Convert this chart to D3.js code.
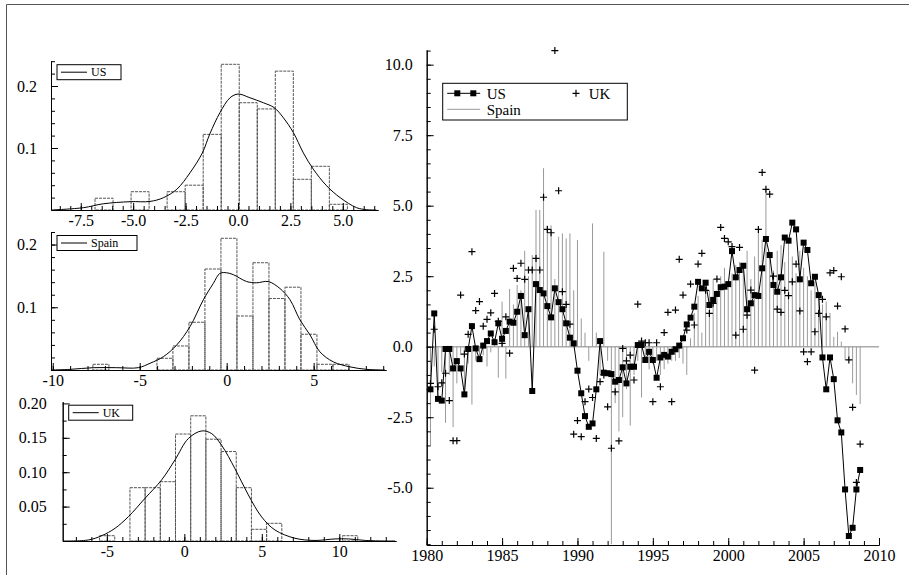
<!DOCTYPE html>
<meta charset="utf-8">
<style>
body { margin: 0; background: #fff; }
svg { display: block; }
</style>
<svg width="909" height="575" font-family="'Liberation Serif', serif"></svg>
<script src="https://d3js.org/d3.v7.min.js"></script>
<script>

// quarterly growth rates, 1980Q2 - 2008Q4
var firstYear = 1980, firstQuarter = 2;

var usGrowth = [-1.51, 1.18, -1.85, -1.91, -0.08, -0.08, -0.77, -0.51, -0.77, -1.69,
  -0.08, 0.73, -0.06, -0.44, 0.04, 0.20, 0.47, 0.16, 0.83, 0.28,
  0.56, 0.89, 0.85, 1.24, 1.80, 0.41, 1.33, -1.57, 2.22, 2.01,
  1.89, 1.44, 1.04, 2.07, 1.58, 1.33, 0.83, 0.32, 0.12, -0.85,
  -1.65, -2.46, -2.84, -2.72, -1.51, 0.20, -0.92, -0.94, -0.97, -1.24,
  -1.18, -0.73, -1.30, -0.71, -0.71, 0.06, 0.06, -0.47, -0.18, -0.47,
  -1.10, -0.38, -0.29, -0.35, -0.18, -0.09, 0.04, 0.30, 0.79, 1.03,
  1.42, 2.30, 2.07, 2.27, 1.48, 1.66, 1.87, 2.11, 2.13, 2.22,
  3.39, 2.46, 2.72, 2.87, 1.33, 1.54, 1.83, 1.80, 2.78, 3.82,
  3.25, 2.19, 1.95, 2.46, 3.87, 3.76, 4.40, 4.16, 2.39, 3.69,
  3.43, 2.25, 2.48, 1.83, -0.38, -1.51, -0.38, -1.15, -2.61, -3.04,
  -5.06, -6.71, -6.42, -5.06, -4.37];

var ukGrowth = [-1.3, 0.62, -1.42, -1.28, -0.94, -1.91, -3.33, -3.33, 1.83, -0.26,
  0.44, 3.37, 1.28, 1.60, 0.73, 0.97, 1.2, 1.89, 0.9, 0.12,
  1.06, -0.23, 2.78, 2.42, 2.96, 2.39, 2.72, 2.72, 3.13, 2.72,
  5.3, 4.16, 4.04, 10.5, 5.53, 1.95, 1.5, 0.8, -3.1, -2.62,
  -3.19, -1.95, -1.5, -1.8, -3.25, -1.24, -1.0, -2.13, -3.6, -1.6,
  -3.34, -0.06, -0.5, -0.3, -1.18, 1.51, 0.2, 0.14, 0.14, -1.95,
  0.14, -1.42, 0.5, 1.22, -1.95, 1.30, 3.1, 1.83, 0.59, 2.22,
  0.77, 2.93, 3.31, 2.0, 1.18, 1.54, 2.40, 4.23, 3.84, 3.72,
  3.55, 0.41, 3.52, 0.62, 1.12, 2.01, -0.83, 4.16, 6.18, 5.58,
  5.41, 2.5, 1.33, 1.22, 2.0, 1.81, 2.3, 2.93, 1.27, -0.18,
  -0.53, -0.18, 0.53, 1.18, 1.68, 1.06, 2.62, 2.70, 1.44, 2.48,
  0.63, -0.47, -2.15, -4.81, -3.45];

var spainGrowth = [-3.5, -0.7, -1.9, -0.9, -2.7, -1.0, -2.85, -1.3, -0.3, -1.77,
  -0.6, -2.05, -0.5, -0.4, -0.3, -0.7, -0.2, 0.3, -1.1, 1.6,
  -1.13, 2.05, 1.5, 2.19, 2.0, 3.4, 2.5, 3.25, 4.85, 4.85,
  6.33, 4.3, 4.3, 2.4, 3.9, 4.02, 3.84, 4.02, 2.0, 3.78,
  1.0, 0.5, -0.5, 4.37, 0.5, -1.0, 3.37, -0.5, -7.0, -2.0,
  -3.0, -2.5, -1.5, -2.8, -1.0, -0.5, -1.8, -0.5, -0.8, -0.6,
  -0.5, -1.0, -0.8, -0.6, -0.5, -0.5, -0.4, -0.6, -1.0, 0.3,
  1.2, 1.8, 0.5, 2.3, 2.0, 2.4, 2.0, 2.5, 2.8, 2.2,
  2.6, 2.9, 3.0, 2.7, 3.4, 2.4, 3.2, 4.1, 3.8, 5.6,
  3.2, 2.7, 3.4, 3.6, 3.0, 3.8, 3.2, 2.6, 3.4, 2.8,
  2.5, 2.0, 2.3, 1.7, 1.5, 1.6, 1.2, 0.35, 0.53, 0.18,
  -0.47, -0.47, -1.3, -1.71, -2.03];

// histograms: bin start, bin width, density per bin
var usBinStart = -6.82, usBinWidth = 0.86;
var usHist = [0.019, 0, 0.0295, 0, 0.0295, 0.040, 0.122, 0.235, 0.173, 0.163, 0.224, 0.0495, 0.0705, 0.0092];
var usDensity = [[-8.9, 0], [-7.38, 0.0037], [-6.43, 0.010], [-5.15, 0.0134], [-4.20, 0.0138], [-3.56, 0.0198],
  [-2.92, 0.0334], [-2.29, 0.060], [-1.70, 0.092], [-1.34, 0.123], [-0.86, 0.157], [-0.38, 0.181],
  [0.01, 0.187], [0.57, 0.181], [1.21, 0.173], [1.73, 0.165], [2.16, 0.149], [2.64, 0.125],
  [3.12, 0.092], [3.59, 0.066], [4.23, 0.039], [4.87, 0.020], [5.66, 0.0037], [6.14, 0.0005], [6.6, 0]];

var spainBinStart = -7.69, spainBinWidth = 0.92;
var spainHist = [0.0091, 0, 0, 0, 0.0187, 0.0383, 0.0761, 0.161, 0.210, 0.0861, 0.171, 0.114, 0.132, 0.057, 0.0091, 0.0091];
var spainDensity = [[-10.1, 0], [-9.01, 0.001], [-7.67, 0.0037], [-6.32, 0.0037], [-5.08, 0.0037], [-4.41, 0.0107],
  [-3.64, 0.0212], [-2.87, 0.040], [-2.11, 0.069], [-1.34, 0.112], [-0.77, 0.138], [-0.39, 0.154],
  [0, 0.155], [0.38, 0.152], [1.15, 0.141], [1.72, 0.139], [2.39, 0.141], [3.06, 0.130],
  [3.64, 0.112], [4.21, 0.080], [4.79, 0.056], [5.36, 0.029], [6.13, 0.013], [7.09, 0.005], [8.05, 0.001], [9.1, 0]];

var ukBinStart = -5.47, ukBinWidth = 0.98;
var ukHist = [0.0077, 0, 0.0775, 0.0775, 0.0862, 0.1555, 0.182, 0.148, 0.130, 0.0775, 0.017, 0.0257, 0, 0, 0, 0, 0.0077];
var ukDensity = [[-7.8, 0], [-6.19, 0.0015], [-5.33, 0.0077], [-4.47, 0.0185], [-3.61, 0.0354], [-2.54, 0.062],
  [-1.46, 0.089], [-0.60, 0.118], [0.26, 0.149], [1.12, 0.160], [1.77, 0.156], [2.41, 0.139],
  [3.27, 0.105], [4.13, 0.067], [4.99, 0.035], [5.85, 0.016], [7.14, 0.004], [8.43, 0.0008],
  [9.72, 0.003], [10.6, 0.003], [11.68, 0.0008], [12.95, 0], [13.6, 0]];

var svg = d3.select("svg");
var serif = "'Liberation Serif', serif";

// outer frame (top and left edges are visible)
svg.append("path").attr("d", "M6.5,575V4.5H909").attr("fill", "none").attr("stroke", "#555");

function fix(n) { return function(d) { return d.toFixed(n); }; }

function axes(g, x, y, o) {
  var h = y.range()[0], left = x.range()[0];
  g.append("g").attr("transform", "translate(0," + h + ")")
    .call(d3.axisBottom(x).tickValues(o.xMinor).tickSize(-4).tickSizeOuter(0).tickFormat(""));
  g.append("g").attr("transform", "translate(0," + h + ")")
    .call(d3.axisBottom(x).tickValues(o.xMajor).tickSize(-7).tickSizeOuter(0).tickPadding(5).tickFormat(o.xFmt))
    .attr("font-size", 16)
    .selectAll("text").style("font-family", serif);
  g.append("g").attr("transform", "translate(" + left + ",0)")
    .call(d3.axisLeft(y).tickValues(o.yMinor).tickSize(-4).tickSizeOuter(0).tickFormat(""));
  g.append("g").attr("transform", "translate(" + left + ",0)")
    .call(d3.axisLeft(y).tickValues(o.yMajor).tickSize(-7).tickSizeOuter(0).tickPadding(o.yPad || 14).tickFormat(o.yFmt))
    .attr("font-size", 16)
    .selectAll("text").style("font-family", serif);
}

function histPanel(o) {
  var x = d3.scaleLinear().domain(o.xDomain).range(o.xRange);
  var y = d3.scaleLinear().domain(o.yDomain).range(o.yRange);
  var g = svg.append("g");

  g.selectAll("rect.bar")
    .data(o.hist.map(function(d, i) { return {lo: o.binStart + i * o.binWidth, v: d}; })
      .filter(function(d) { return d.v > 0; }))
    .enter().append("rect")
      .attr("class", "bar")
      .attr("x", function(d) { return x(d.lo); })
      .attr("width", x(o.binWidth) - x(0))
      .attr("y", function(d) { return y(d.v); })
      .attr("height", function(d) { return y(0) - y(d.v); })
      .attr("fill", "none")
      .attr("stroke", "#555")
      .attr("stroke-dasharray", "3,1");

  g.append("path")
    .datum(o.density)
    .attr("fill", "none")
    .attr("stroke", "#000")
    .attr("d", d3.line().x(function(d) { return x(d[0]); }).y(function(d) { return y(d[1]); })
      .curve(d3.curveCatmullRom.alpha(0.5)));

  axes(g, x, y, o);

  // legend
  var lx = o.xRange[0] + 6, ly = o.yRange[1] + 3.5;
  g.append("rect").attr("x", lx).attr("y", ly).attr("width", o.legW).attr("height", 15)
    .attr("fill", "#fff").attr("stroke", "#000");
  g.append("line").attr("x1", lx + 4).attr("x2", lx + 30).attr("y1", ly + 7.5).attr("y2", ly + 7.5)
    .attr("stroke", "#000");
  g.append("text").attr("x", lx + 34).attr("y", ly + 11.5).style("font-family", serif)
    .attr("font-size", 12).text(o.label);
}

histPanel({
  label: "US", legW: 64,
  hist: usHist, binStart: usBinStart, binWidth: usBinWidth, density: usDensity,
  xDomain: [-8.92, 6.68], xRange: [51, 378], yDomain: [0, 0.24], yRange: [210, 61.2],
  xMajor: [-7.5, -5, -2.5, 0, 2.5, 5], xMinor: d3.range(-8.5, 6.6, 0.5), xFmt: fix(1),
  yMajor: [0.1, 0.2], yMinor: d3.range(0.02, 0.241, 0.02), yFmt: fix(1)
});

histPanel({
  label: "Spain", legW: 80,
  hist: spainHist, binStart: spainBinStart, binWidth: spainBinWidth, density: spainDensity,
  xDomain: [-10.1, 9.16], xRange: [51, 386], yDomain: [0, 0.22], yRange: [370, 232],
  xMajor: [-10, -5, 0, 5], xMinor: d3.range(-10, 9.1, 1), xFmt: fix(0),
  yMajor: [0.1, 0.2], yMinor: d3.range(0.02, 0.221, 0.02), yFmt: fix(1)
});

histPanel({
  label: "UK", legW: 64,
  hist: ukHist, binStart: ukBinStart, binWidth: ukBinWidth, density: ukDensity,
  xDomain: [-7.85, 13.66], xRange: [62.7, 396], yDomain: [0, 0.2025], yRange: [541, 401.7],
  xMajor: [-5, 0, 5, 10], xMinor: d3.range(-7, 13.6, 1), xFmt: fix(0),
  yMajor: [0.05, 0.1, 0.15, 0.2], yMinor: d3.range(0.025, 0.2, 0.025), yFmt: fix(2), yPad: 16
});

// main time series panel
var x = d3.scaleLinear().domain([1980, 2010]).range([426.7, 879]);
var y = d3.scaleLinear().domain([-7.03, 10.52]).range([545, 50]);
var main = svg.append("g");

function date(i) { return firstYear + (firstQuarter - 1) / 4 + i / 4; }

main.append("line")
  .attr("x1", x(1980)).attr("x2", x(2010)).attr("y1", y(0)).attr("y2", y(0))
  .attr("stroke", "#aaa").attr("stroke-width", 1.5);

main.selectAll("line.spain")
  .data(spainGrowth)
  .enter().append("line")
    .attr("class", "spain")
    .attr("x1", function(d, i) { return x(date(i)); })
    .attr("x2", function(d, i) { return x(date(i)); })
    .attr("y1", y(0))
    .attr("y2", function(d) { return y(d); })
    .attr("stroke", "#999");

main.append("path")
  .datum(usGrowth)
  .attr("fill", "none").attr("stroke", "#000")
  .attr("d", d3.line().x(function(d, i) { return x(date(i)); }).y(function(d) { return y(d); }));

main.selectAll("rect.us")
  .data(usGrowth)
  .enter().append("rect")
    .attr("class", "us")
    .attr("x", function(d, i) { return x(date(i)) - 3; })
    .attr("y", function(d) { return y(d) - 3; })
    .attr("width", 6).attr("height", 6)
    .attr("fill", "#000");

var plus = "M-3.5,0H3.5M0,-3.5V3.5";
main.selectAll("path.uk")
  .data(ukGrowth)
  .enter().append("path")
    .attr("class", "uk")
    .attr("transform", function(d, i) { return "translate(" + x(date(i)) + "," + y(d) + ")"; })
    .attr("d", plus)
    .attr("stroke", "#000").attr("stroke-width", 1.2);

axes(main, x, y, {
  xMajor: d3.range(1980, 2011, 5), xMinor: d3.range(1980, 2011, 1), xFmt: fix(0),
  yMajor: [-5, -2.5, 0, 2.5, 5, 7.5, 10], yMinor: d3.range(-7, 10.51, 0.5), yFmt: fix(1)
});

// legend
var leg = main.append("g").attr("transform", "translate(442.7,83.3)").attr("font-size", 15);
leg.append("rect").attr("width", 184.6).attr("height", 36.7).attr("fill", "#fff").attr("stroke", "#000");
leg.append("line").attr("x1", 4.5).attr("x2", 37.5).attr("y1", 10).attr("y2", 10).attr("stroke", "#000");
leg.selectAll("rect.m").data([14.6, 30.6]).enter().append("rect")
  .attr("x", function(d) { return d - 3; }).attr("y", 7).attr("width", 6).attr("height", 6).attr("fill", "#000");
leg.append("text").attr("x", 44).attr("y", 15.5).style("font-family", serif).text("US");
leg.append("path").attr("transform", "translate(133.3,10)").attr("d", plus).attr("stroke", "#000").attr("stroke-width", 1.2);
leg.append("text").attr("x", 146).attr("y", 15.5).style("font-family", serif).text("UK");
leg.append("line").attr("x1", 4.5).attr("x2", 37.5).attr("y1", 26).attr("y2", 26).attr("stroke", "#999");
leg.append("text").attr("x", 44).attr("y", 31.5).style("font-family", serif).text("Spain");

</script>
